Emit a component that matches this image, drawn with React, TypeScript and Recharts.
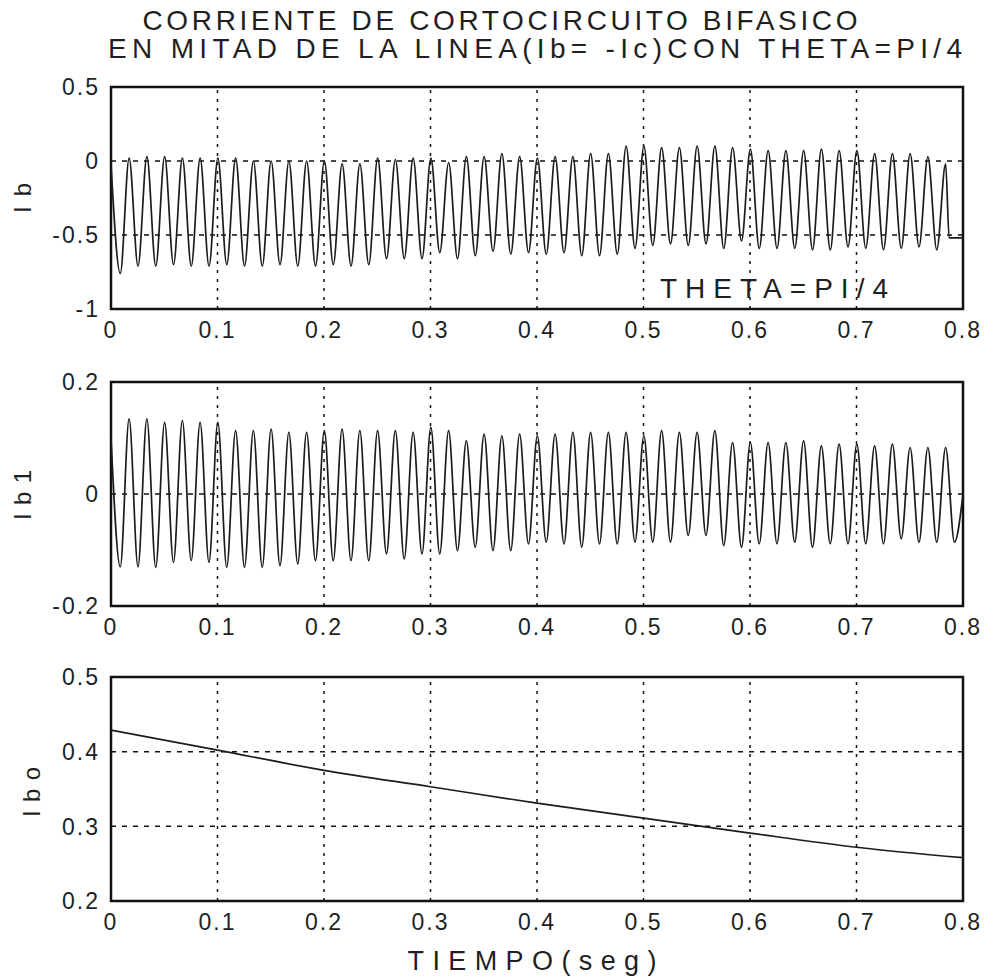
import React from 'react';
import { LineChart, Line, XAxis, YAxis, ReferenceLine, ReferenceArea } from 'recharts';

// ---- axis ticks ----
const TIME_TICKS = [0, 0.1, 0.2, 0.3, 0.4, 0.5, 0.6, 0.7, 0.8];
const TIME_GRID = [0.1, 0.2, 0.3, 0.4, 0.5, 0.6, 0.7];
const IB_TICKS = [-1, -0.5, 0, 0.5];
const IB_GRID = [-0.5, 0];
const IB1_TICKS = [-0.2, 0, 0.2];
const IB1_GRID = [0];
const IBO_TICKS = [0.2, 0.3, 0.4, 0.5];
const IBO_GRID = [0.3, 0.4];

// ---- Ib (top): per-cycle troughs and peaks ----
const HALF_CYCLE = 1 / 120; // 60 Hz spacing of the extremes
const IB_FIRST_T = 0.0087;
const IB_START: [number, number][] = [[0, -0.02]];
const IB_TROUGHS = [
  -0.76, -0.71, -0.71, -0.70, -0.71, -0.71, -0.70, -0.71, -0.71, -0.70, -0.71, -0.71,
  -0.70, -0.71, -0.70, -0.66, -0.66, -0.66, -0.62, -0.66, -0.64, -0.61, -0.63, -0.62,
  -0.63, -0.62, -0.64, -0.64, -0.63, -0.59, -0.57, -0.56, -0.57, -0.56, -0.59, -0.54,
  -0.59, -0.59, -0.59, -0.60, -0.60, -0.58, -0.59, -0.60, -0.59, -0.58, -0.60,
];
const IB_PEAKS = [
  0.02, 0.03, 0.03, 0.02, 0.02, 0.02, 0.02, 0.00, 0.00, 0.00, 0.00,
  0.00, -0.02, -0.02, 0.02, 0.01, 0.02, 0.02, -0.01, 0.03, 0.03, 0.05, 0.03,
  0.02, 0.03, 0.03, 0.05, 0.05, 0.10, 0.10, 0.09, 0.09, 0.10, 0.10, 0.09,
  0.08, 0.07, 0.07, 0.07, 0.08, 0.07, 0.07, 0.05, 0.05, 0.05, 0.03, -0.02,
];
const IB_END: [number, number][] = [[0.787, -0.52], [0.8, -0.52]];

// ---- Ib1 (middle) ----
const IB1_FIRST_T = 0.017;
const IB1_START: [number, number][] = [[0, 0.10], [0.0087, -0.13]];
const IB1_PEAKS = [
  0.134, 0.134, 0.128, 0.131, 0.128, 0.128, 0.113, 0.113, 0.116, 0.110, 0.110, 0.113,
  0.116, 0.113, 0.113, 0.113, 0.110, 0.119, 0.113, 0.095, 0.107,
  0.104, 0.107, 0.104, 0.107, 0.110, 0.110, 0.110, 0.110, 0.104, 0.113, 0.110, 0.110,
  0.113, 0.092, 0.092, 0.092, 0.092, 0.095, 0.086, 0.089, 0.089, 0.086, 0.089, 0.083,
  0.083, 0.083,
];
const IB1_TROUGHS = [
  -0.130, -0.131, -0.122, -0.119, -0.122, -0.131, -0.131, -0.131, -0.128, -0.125, -0.119,
  -0.119, -0.119, -0.119, -0.107, -0.116, -0.107, -0.107, -0.101, -0.095, -0.101,
  -0.101, -0.089, -0.086, -0.089, -0.095, -0.089, -0.089, -0.086, -0.086, -0.086, -0.074,
  -0.074, -0.092, -0.095, -0.089, -0.089, -0.086, -0.095, -0.089, -0.089, -0.089, -0.089,
  -0.080, -0.086, -0.086, -0.086,
];
const IB1_END: [number, number][] = [[0.8, 0.0]];

// ---- Ibo (bottom) ----
const IBO_TIMES = [0, 0.1, 0.2, 0.3, 0.4, 0.5, 0.6, 0.7, 0.8];
const IBO_VALUES = [0.429, 0.402, 0.375, 0.353, 0.331, 0.311, 0.291, 0.272, 0.258];

type Pt = { t: number; v: number };

function buildWave(
  start: [number, number][],
  firstT: number,
  first: number[],
  second: number[],
  end: [number, number][],
): Pt[] {
  const out: Pt[] = start.map(([t, v]) => ({ t, v }));
  for (let k = 0; k < first.length; k++) {
    out.push({ t: firstT + 2 * k * HALF_CYCLE, v: first[k] });
    if (k < second.length) out.push({ t: firstT + (2 * k + 1) * HALF_CYCLE, v: second[k] });
  }
  end.forEach(([t, v]) => out.push({ t, v }));
  return out;
}

const ibData = buildWave(IB_START, IB_FIRST_T, IB_TROUGHS, IB_PEAKS, IB_END);
const ib1Data = buildWave(IB1_START, IB1_FIRST_T, IB1_PEAKS, IB1_TROUGHS, IB1_END);
const iboData: Pt[] = IBO_TIMES.map((t, i) => ({ t, v: IBO_VALUES[i] }));

const FONT = '"Liberation Sans Narrow", "Liberation Sans", Arial, sans-serif';
const TXT = '#1f1f1f';

const fmt = (v: number) => String(Math.round(v * 10) / 10);

const XTick = (props: any) => {
  const { x, y, payload } = props;
  return (
    <text x={x} y={y} dy="0.71em" textAnchor="middle" fontFamily={FONT} fontSize={23} fill={TXT} letterSpacing={2}>
      {fmt(payload.value)}
    </text>
  );
};

const YTick = (props: any) => {
  const { x, y, payload } = props;
  return (
    <text x={x} y={y} dy="0.36em" textAnchor="end" fontFamily={FONT} fontSize={23} fill={TXT} letterSpacing={2}>
      {fmt(payload.value)}
    </text>
  );
};

type PanelProps = {
  top: number;
  height: number;
  mTop: number;
  mBottom: number;
  data: Pt[];
  yDomain: [number, number];
  yTicks: number[];
  yGrid: number[];
  strokeWidth: number;
};

const Panel = ({ top, height, mTop, mBottom, data, yDomain, yTicks, yGrid, strokeWidth }: PanelProps) => (
  <div style={{ position: 'absolute', left: 0, top, width: 1000, height }}>
    <LineChart width={1000} height={height} data={data} margin={{ top: mTop, right: 37, bottom: mBottom, left: 51 }}>
      <XAxis
        dataKey="t"
        type="number"
        domain={[0, 0.8]}
        ticks={TIME_TICKS}
        interval={0}
        allowDataOverflow
        height={30}
        axisLine={false}
        tickLine={false}
        tickSize={0}
        tickMargin={13}
        tick={<XTick />}
      />
      <YAxis
        type="number"
        domain={yDomain}
        ticks={yTicks}
        interval={0}
        allowDataOverflow
        width={60}
        axisLine={false}
        tickLine={false}
        tickSize={0}
        tickMargin={11}
        tick={<YTick />}
      />
      {TIME_GRID.map((g) => (
        <ReferenceLine key={'x' + g} x={g} stroke="#111" strokeWidth={1.5} strokeDasharray="3 6" />
      ))}
      {yGrid.map((g) => (
        <ReferenceLine key={'y' + g} y={g} stroke="#111" strokeWidth={1.5} strokeDasharray="5 6" />
      ))}
      <Line
        type="monotone"
        dataKey="v"
        stroke="#1c1c1c"
        strokeWidth={strokeWidth}
        dot={false}
        isAnimationActive={false}
      />
      <ReferenceArea x1={0} x2={0.8} y1={yDomain[0]} y2={yDomain[1]} fill="none" fillOpacity={0} stroke="#111" strokeWidth={2.5} />
    </LineChart>
  </div>
);

export default function App() {
  return (
    <div style={{ position: 'absolute', left: 0, top: 0, width: 1000, height: 977, background: '#fff', overflow: 'hidden' }}>
      <Panel top={0} height={362} mTop={87} mBottom={23} data={ibData} yDomain={[-1, 0.5]} yTicks={IB_TICKS} yGrid={IB_GRID} strokeWidth={1.7} />
      <Panel top={340} height={322} mTop={42} mBottom={26} data={ib1Data} yDomain={[-0.2, 0.2]} yTicks={IB1_TICKS} yGrid={IB1_GRID} strokeWidth={1.7} />
      <Panel top={640} height={337} mTop={37} mBottom={46} data={iboData} yDomain={[0.2, 0.5]} yTicks={IBO_TICKS} yGrid={IBO_GRID} strokeWidth={1.7} />
      <svg width={1000} height={977} style={{ position: 'absolute', left: 0, top: 0, pointerEvents: 'none' }}>
        <g fontFamily={FONT} fill={TXT}>
          <text x={500} y={30} fontSize={28} textAnchor="middle" textLength={715} lengthAdjust="spacing">
            CORRIENTE DE CORTOCIRCUITO BIFASICO
          </text>
          <text x={535} y={58} fontSize={28} textAnchor="middle" textLength={854} lengthAdjust="spacing">
            EN MITAD DE LA LINEA(Ib= -Ic)CON THETA=PI/4
          </text>
          <text x={660} y={298} fontSize={28} textLength={228} lengthAdjust="spacing">
            THETA=PI/4
          </text>
          <text transform="translate(31,198) rotate(-90)" fontSize={24} textAnchor="middle" textLength={30} lengthAdjust="spacing">
            Ib
          </text>
          <text transform="translate(31,495) rotate(-90)" fontSize={24} textAnchor="middle" textLength={50} lengthAdjust="spacing">
            Ib1
          </text>
          <text transform="translate(40,792) rotate(-90)" fontSize={24} textAnchor="middle" textLength={50} lengthAdjust="spacing">
            Ibo
          </text>
          <text x={532} y={970} fontSize={27} textAnchor="middle" textLength={249} lengthAdjust="spacing">
            TIEMPO(seg)
          </text>
        </g>
      </svg>
    </div>
  );
}
